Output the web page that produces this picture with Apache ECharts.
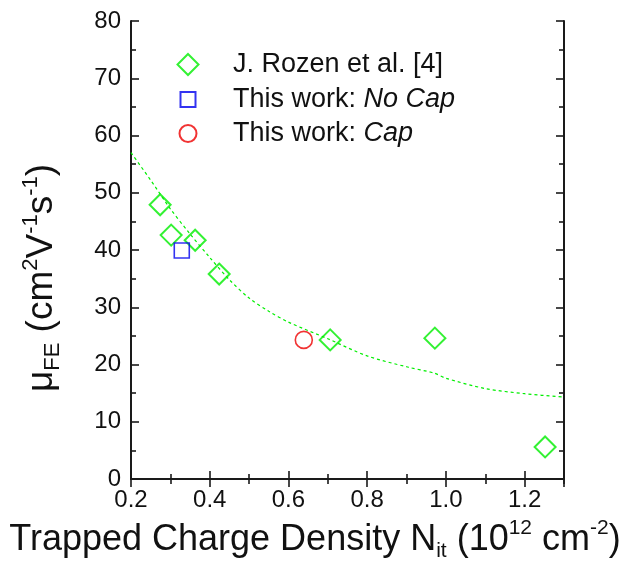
<!DOCTYPE html>
<html>
<head>
<meta charset="utf-8">
<script src="https://cdn.jsdelivr.net/npm/echarts@6/dist/echarts.min.js"></script>
<style>
  html, body { margin: 0; padding: 0; background: #fff; }
  #chart { width: 630px; height: 566px; }
</style>
</head>
<body>
<div id="chart"></div>
<script>
// values
const rozenX = [0.274, 0.302, 0.363, 0.424, 0.706, 0.972, 1.252];
const rozenY = [47.9, 42.6, 41.7, 35.8, 24.3, 24.6, 5.6];
const noCapX = [0.329];
const noCapY = [39.9];
const capX = [0.639];
const capY = [24.3];
// dashed fit curve
const fitX = [0.2, 0.25, 0.3, 0.35, 0.4, 0.45, 0.5, 0.55, 0.6, 0.7, 0.8, 0.9, 0.97, 1.0, 1.1, 1.2, 1.3];
const fitY = [57.0, 52.2, 47.2, 42.8, 38.7, 34.8, 31.6, 29.3, 27.4, 24.5, 21.5, 19.6, 18.5, 17.6, 15.8, 14.9, 14.3];

const xTicks = { min: 0.2, max: 1.3, step: 0.2 };
const yTicks = { min: 0, max: 80, step: 10 };

const pairs = (xs, ys) => xs.map((x, i) => [x, ys[i]]);

const FONT = '"Liberation Sans", Arial, sans-serif';
const GREEN = '#00ee00';
const INK = '#111';

const chart = echarts.init(document.getElementById('chart'));

const axisCommon = {
  axisLine: { show: true, lineStyle: { color: '#1a1a1a', width: 2 } },
  axisTick: { show: true, inside: true, length: 8, lineStyle: { color: '#1a1a1a', width: 1.6 } },
  minorTick: { show: true, splitNumber: 2, length: 5, lineStyle: { color: '#1a1a1a', width: 1.6 } },
  splitLine: { show: false },
  minorSplitLine: { show: false },
};

const legendRich = {
  n: { fontFamily: FONT, fontSize: 27, lineHeight: 22, color: INK },
  i: { fontFamily: FONT, fontSize: 27, lineHeight: 22, color: INK, fontStyle: 'italic' }
};

// one legend per entry so each icon keeps its own size
const makeLegend = (name, size, cy) => ({
  orient: 'vertical',
  left: 187 - size / 2,
  top: cy - Math.max(size, 22) / 2,
  padding: 0,
  itemWidth: size,
  itemHeight: size,
  textStyle: {
    fontFamily: FONT, fontSize: 27, color: INK,
    padding: [0, 0, 0, 232 - (187 - size / 2) - size - 5],
    rich: legendRich
  },
  formatter: function (n) {
    if (n === 'No Cap') return '{n|This work: }{i|No Cap}';
    if (n === 'Cap') return '{n|This work: }{i|Cap}';
    return '{n|' + n + '}';
  },
  data: [name]
});

const titleRich = (big, small) => ({
  n: { fontFamily: FONT, fontSize: big, lineHeight: 44, fill: INK },
  sup: { fontFamily: FONT, fontSize: small, lineHeight: 26, verticalAlign: 'top', fill: INK },
  sub: { fontFamily: FONT, fontSize: small, lineHeight: 10, verticalAlign: 'bottom', fill: INK }
});

chart.setOption({
  animation: false,
  backgroundColor: '#fff',
  grid: { left: 131, top: 21, right: 66, bottom: 87 },
  legend: [
    makeLegend('J. Rozen et al. [4]', 21, 62),
    makeLegend('No Cap', 15, 97),
    makeLegend('Cap', 17, 131)
  ],
  xAxis: [
    Object.assign({
      type: 'value',
      min: xTicks.min, max: xTicks.max, interval: xTicks.step,
      axisLabel: {
        fontFamily: FONT, fontSize: 24, color: INK, margin: 9,
        formatter: v => (Math.abs(v - 1.3) < 1e-6 ? '' : v.toFixed(1))
      }
    }, axisCommon),
    Object.assign({
      type: 'value', position: 'top',
      min: xTicks.min, max: xTicks.max, interval: xTicks.step,
      axisLabel: { show: false }
    }, axisCommon)
  ],
  yAxis: [
    Object.assign({
      type: 'value',
      min: yTicks.min, max: yTicks.max, interval: yTicks.step,
      axisLabel: { fontFamily: FONT, fontSize: 24, color: INK, margin: 10 }
    }, axisCommon),
    Object.assign({
      type: 'value', position: 'right',
      min: yTicks.min, max: yTicks.max, interval: yTicks.step,
      axisLabel: { show: false }
    }, axisCommon)
  ],
  graphic: [
    {
      type: 'text',
      x: 315, y: 540,
      style: {
        text: '{n|Trapped Charge Density N}{sub|it}{n| (10}{sup|12}{n| cm}{sup|-2}{n|)}',
        align: 'center',
        verticalAlign: 'middle',
        fill: INK,
        rich: titleRich(36, 21)
      }
    },
    {
      type: 'text',
      x: 42, y: 278,
      rotation: Math.PI / 2,
      style: {
        text: '{n|μ}{sub|FE}{n| (cm}{sup|2}{n|V}{sup|-1}{n|s}{sup|-1}{n|)}',
        align: 'center',
        verticalAlign: 'middle',
        fill: INK,
        rich: titleRich(37, 22)
      }
    }
  ],
  series: [
    {
      name: 'fit',
      type: 'line',
      data: pairs(fitX, fitY),
      smooth: 0.3,
      showSymbol: false,
      silent: true,
      lineStyle: { color: GREEN, width: 1.2, type: [3, 3] },
      z: 1
    },
    {
      name: 'J. Rozen et al. [4]',
      type: 'scatter',
      symbol: 'diamond',
      symbolSize: 21,
      data: pairs(rozenX, rozenY),
      itemStyle: { color: 'rgba(0,0,0,0)', borderColor: GREEN, borderWidth: 2 },
      z: 3
    },
    {
      name: 'No Cap',
      type: 'scatter',
      symbol: 'rect',
      symbolSize: 15,
      data: pairs(noCapX, noCapY),
      itemStyle: { color: 'rgba(0,0,0,0)', borderColor: '#0000ee', borderWidth: 1.6 },
      z: 3
    },
    {
      name: 'Cap',
      type: 'scatter',
      symbol: 'circle',
      symbolSize: 17,
      data: pairs(capX, capY),
      itemStyle: { color: 'rgba(0,0,0,0)', borderColor: '#ee0000', borderWidth: 1.6 },
      z: 3
    }
  ]
});
</script>
</body>
</html>
